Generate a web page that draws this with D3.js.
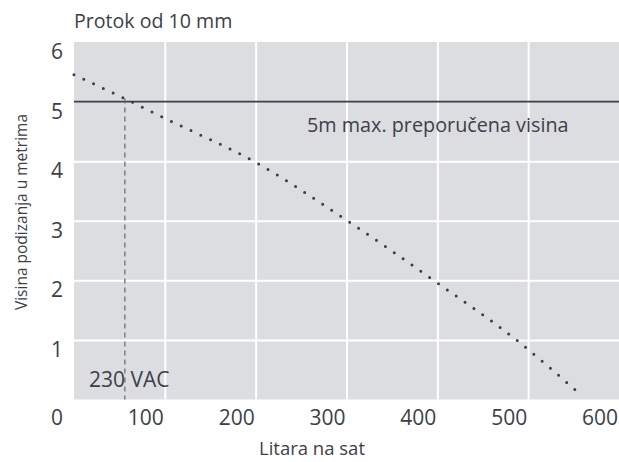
<!DOCTYPE html>
<html><head><meta charset="utf-8">
<script src="https://cdn.jsdelivr.net/npm/d3@7"></script>
<style>
body{margin:0;background:#fff;}
text{font-family:"Open Sans",sans-serif;fill:#3d4049;}
</style></head>
<body>
<svg id="c" width="619" height="462"></svg>
<script>
const xTicks = [0, 100, 200, 300, 400, 500, 600];
const yTicks = [0, 1, 2, 3, 4, 5, 6];
const flowX = [0, 56, 100, 200, 301, 396, 487, 560];
const headY = [5.45, 5.05, 4.72, 3.98, 3.0, 2.0, 1.0, 0.05];
const maxHeight = 5;
const voltageFlow = 56;
const titleText = "Protok od 10 mm";
const xTitle = "Litara na sat";
const yTitle = "Visina podizanja u metrima";
const maxLabel = "5m max. preporučena visina";
const voltLabel = "230 VAC";

const svg = d3.select("#c");
const L = 74, R = 619, T = 42, B = 399.5;
const x = d3.scaleLinear().domain([0, 600]).range([L, R]);
const y = d3.scaleLinear().domain([0, 6]).range([B, T]);

svg.append("rect").attr("x", L).attr("y", T).attr("width", R - L).attr("height", B - T).attr("fill", "#dcdde0");

// gridlines
const gx = svg.append("g").attr("transform", `translate(0,${B})`)
  .call(d3.axisBottom(x).tickValues(xTicks.slice(1, -1)).tickSize(-(B - T)).tickFormat(""));
gx.select(".domain").remove();
gx.selectAll("line").attr("stroke", "#fff").attr("stroke-width", 2);
const gy = svg.append("g").attr("transform", `translate(${L},0)`)
  .call(d3.axisLeft(y).tickValues(yTicks.slice(1, -1).filter(v => v !== maxHeight)).tickSize(-(R - L)).tickFormat(""));
gy.select(".domain").remove();
gy.selectAll("line").attr("stroke", "#fff").attr("stroke-width", 2);

// tick labels
svg.append("g").selectAll("text").data(xTicks.slice(1)).join("text")
  .attr("x", d => x(d) - 1).attr("y", 425).attr("text-anchor", "end")
  .attr("font-size", 21).text(d => d);
svg.append("g").selectAll("text").data(yTicks.slice(1)).join("text")
  .attr("x", 63).attr("y", d => y(d) + 17).attr("text-anchor", "end")
  .attr("font-size", 21).text(d => d);
svg.append("text").attr("x", 63).attr("y", 425).attr("text-anchor", "end").attr("font-size", 21).text(yTicks[0]);

// max line
svg.append("line").attr("x1", L).attr("x2", R).attr("y1", y(maxHeight)).attr("y2", y(maxHeight))
  .attr("stroke", "#3c3f47").attr("stroke-width", 1.6);

// dashed voltage line
const fY = d3.scaleLinear().domain(flowX).range(headY);
svg.append("line").attr("x1", x(voltageFlow)).attr("x2", x(voltageFlow))
  .attr("y1", y(fY(voltageFlow))).attr("y2", B)
  .attr("stroke", "#6b6e75").attr("stroke-width", 1.3).attr("stroke-dasharray", "5,4");

// dotted curve
const line = d3.line().x((d, i) => x(flowX[i])).y(d => y(d)).curve(d3.curveMonotoneX);
svg.append("path").attr("d", line(headY)).attr("fill", "none")
  .attr("stroke", "#3a3d45").attr("stroke-width", 3).attr("stroke-linecap", "round")
  .attr("stroke-dasharray", "0,10.8");

// labels
svg.append("text").attr("x", 74).attr("y", 28).attr("font-size", 19.6).text(titleText);
svg.append("text").attr("x", 307).attr("y", 132).attr("font-size", 19.8).text(maxLabel);
svg.append("text").attr("x", 89).attr("y", 387).attr("font-size", 21).text(voltLabel);
svg.append("text").attr("x", 312).attr("y", 455).attr("text-anchor", "middle").attr("font-size", 18.5).text(xTitle);
svg.append("text").attr("transform", "translate(27,212) rotate(-90)").attr("text-anchor", "middle")
  .attr("font-size", 15.5).text(yTitle);
</script>
</body></html>
